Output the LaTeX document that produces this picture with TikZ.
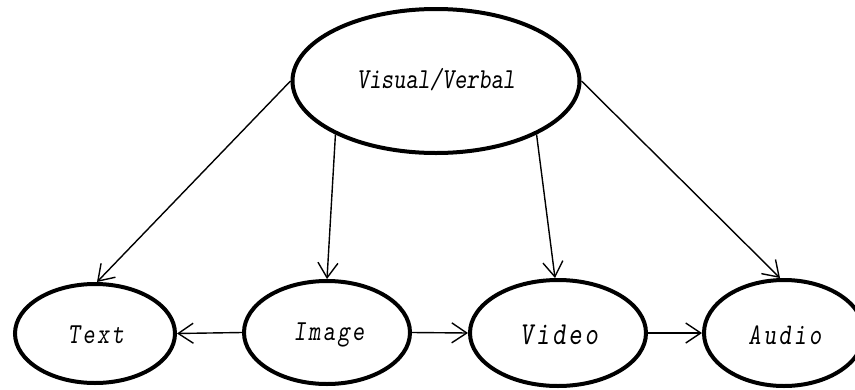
\documentclass[tikz,border=0pt]{standalone}
\usepackage{fontspec}
\usetikzlibrary{shapes.geometric,arrows.meta}
\newfontfamily\lblfont{lmmonoslant10-regular.otf}[FakeStretch=0.8]
\newfontfamily\lblwide{lmmonoslant10-regular.otf}[FakeStretch=0.8,LetterSpace=8.5]

\tikzset{
  oval/.style={ellipse, draw=black, line width=4pt, inner sep=0pt, fill=white},
  link/.style={line width=1.4pt, -{Straight Barb[length=15pt,width=20pt,line width=1.4pt]}},
  label/.style={inner sep=0pt}
}

\begin{document}
\begin{tikzpicture}[x=1pt,y=-1pt]
  \useasboundingbox (0,0) rectangle (855,389);

  % category ellipses
  \node[oval, minimum width=287pt, minimum height=144pt] (vv)  at (436,81)  {};
  \node[oval, minimum width=160pt, minimum height=99pt]  (txt) at (95,333.5) {};
  \node[oval, minimum width=166pt, minimum height=103pt] (img) at (327,332.5) {};
  \node[oval, minimum width=176pt, minimum height=106pt] (vid) at (558,333) {};
  \node[oval, minimum width=160pt, minimum height=106pt] (aud) at (784,333) {};

  % labels
  \node[label] at (436,80)  {\lblfont\fontsize{29}{33}\selectfont Visual/Verbal};
  \node[label] at (96,335)  {\lblwide\fontsize{29}{33}\selectfont Text};
  \node[label] at (329,335) {\lblwide\fontsize{29}{33}\selectfont Image};
  \node[label] at (559,335) {\lblwide\fontsize{32}{36}\selectfont Video};
  \node[label] at (785,335) {\lblwide\fontsize{30}{34}\selectfont Audio};

  % connectors
  \draw[link] (vv.west)  -- ([xshift=2pt]txt.north);
  \draw[link] (vv.208)   -- (img.north);
  \draw[link] (vv.332)   -- ([xshift=-3pt]vid.north);
  \draw[link] (vv.east)  -- ([xshift=-4pt]aud.north);
  \draw[link] (img.west) -- (txt.east);
  \draw[link] (img.east) -- (vid.west);
  \draw[link] (vid.east) -- (aud.west);
\end{tikzpicture}
\end{document}
